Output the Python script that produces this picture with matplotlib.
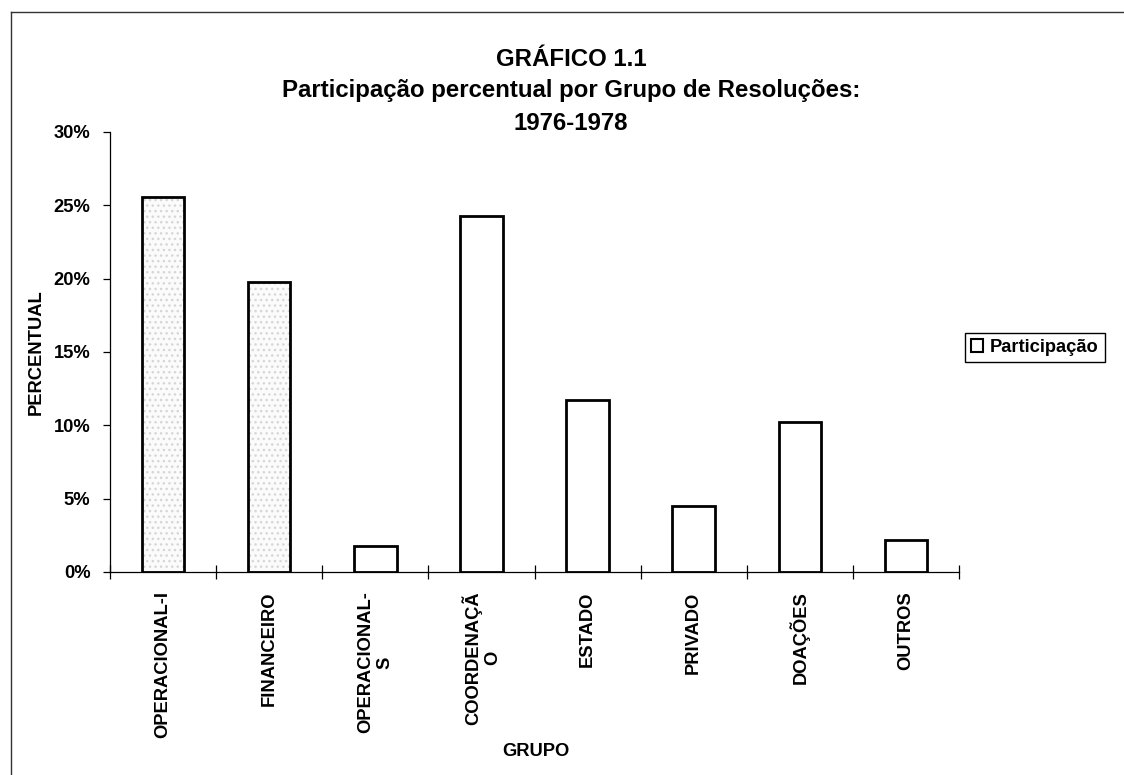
import matplotlib
matplotlib.use("Agg")
import matplotlib.pyplot as plt
from matplotlib.lines import Line2D
from matplotlib.patches import Patch
from matplotlib.ticker import FuncFormatter, MultipleLocator

plt.rcParams['font.family'] = ['Liberation Sans', 'DejaVu Sans']

categories = ["OPERACIONAL-I", "FINANCEIRO", "OPERACIONAL-\nS", "COORDENAÇÃ\nO",
              "ESTADO", "PRIVADO", "DOAÇÕES", "OUTROS"]
participacao = [25.6, 19.8, 1.8, 24.3, 11.7, 4.5, 10.2, 2.2]
shaded = [True, True, False, False, False, False, False, False]
title_lines = ["GRÁFICO 1.1",
               "Participação percentual por Grupo de Resoluções:",
               "1976-1978"]

W, H = 1124, 775
fig = plt.figure(figsize=(W / 100, H / 100), dpi=100)
fig.patch.set_facecolor("white")

ax_l, ax_r, ax_t, ax_b = 110, 959, 132, 572
ax = fig.add_axes([ax_l / W, 1 - ax_b / H, (ax_r - ax_l) / W, (ax_b - ax_t) / H])

x = list(range(len(categories)))
vals = [v / 100 for v in participacao]

# light stippled fill for the shaded bars
for xi, v, s in zip(x, vals, shaded):
    if s:
        ax.bar(xi, v, width=0.4, color="#fbfbfb", hatch="...",
               edgecolor="#d6d6d6", linewidth=0, zorder=2)
ax.bar(x, vals, width=0.4, facecolor="none", edgecolor="black",
       linewidth=2.0, zorder=3)

ax.set_xlim(-0.5, len(categories) - 0.5)
ax.set_ylim(0, 0.30)
ax.yaxis.set_major_locator(MultipleLocator(0.05))
ax.yaxis.set_major_formatter(FuncFormatter(lambda v, p: f"{v*100:.0f}%"))

# category ticks at boundaries (cross style), labels centered
ax.set_xticks([i - 0.5 for i in range(len(categories) + 1)])
ax.set_xticklabels([])
ax.set_xticks(x, minor=True)
ax.set_xticklabels(categories, minor=True, rotation=90, fontsize=13.2,
                   fontweight="bold", ha="center", va="top",
                   multialignment="center")
ax.tick_params(axis="x", which="major", direction="inout", length=10, width=0.9)
ax.tick_params(axis="x", which="minor", length=0, pad=14)
ax.tick_params(axis="y", direction="out", length=5, width=0.9, pad=9)
for lab in ax.get_yticklabels():
    lab.set_fontsize(13.2)
    lab.set_fontweight("bold")

for s in ["top", "right"]:
    ax.spines[s].set_visible(False)
ax.spines["left"].set_linewidth(0.9)
ax.spines["bottom"].set_linewidth(0.9)

# axis titles
fig.text(36 / W, 1 - 352 / H, "PERCENTUAL", rotation=90, ha="center", va="center",
         fontsize=13.2, fontweight="bold")
fig.text(536 / W, 1 - 751 / H, "GRUPO", ha="center", va="center",
         fontsize=13.2, fontweight="bold")

# title
for txt, yc in zip(title_lines, [59, 91, 124]):
    fig.text(571 / W, 1 - yc / H, txt, ha="center", va="center",
             fontsize=17.3, fontweight="bold")

# legend
handle = Patch(facecolor="white", edgecolor="black", linewidth=1.5)
leg = fig.legend([handle], ["Participação"], loc="center left",
                 bbox_to_anchor=(965 / W, 1 - 347.5 / H),
                 prop={"size": 13.2, "weight": "bold"},
                 handlelength=0.65, handleheight=0.65, handletextpad=0.35,
                 borderpad=0.35, borderaxespad=0, fancybox=False,
                 framealpha=1, edgecolor="black")
leg.get_frame().set_linewidth(1.0)

# outer chart frame (left and top edges visible)
fx, fy = 11 / W, 1 - 12 / H
fig.add_artist(Line2D([fx, fx], [0, fy], color="#333333", linewidth=1.0,
                      transform=fig.transFigure))
fig.add_artist(Line2D([fx, 1], [fy, fy], color="#333333", linewidth=1.0,
                      transform=fig.transFigure))

fig.savefig("out.png", dpi=100, facecolor="white")
